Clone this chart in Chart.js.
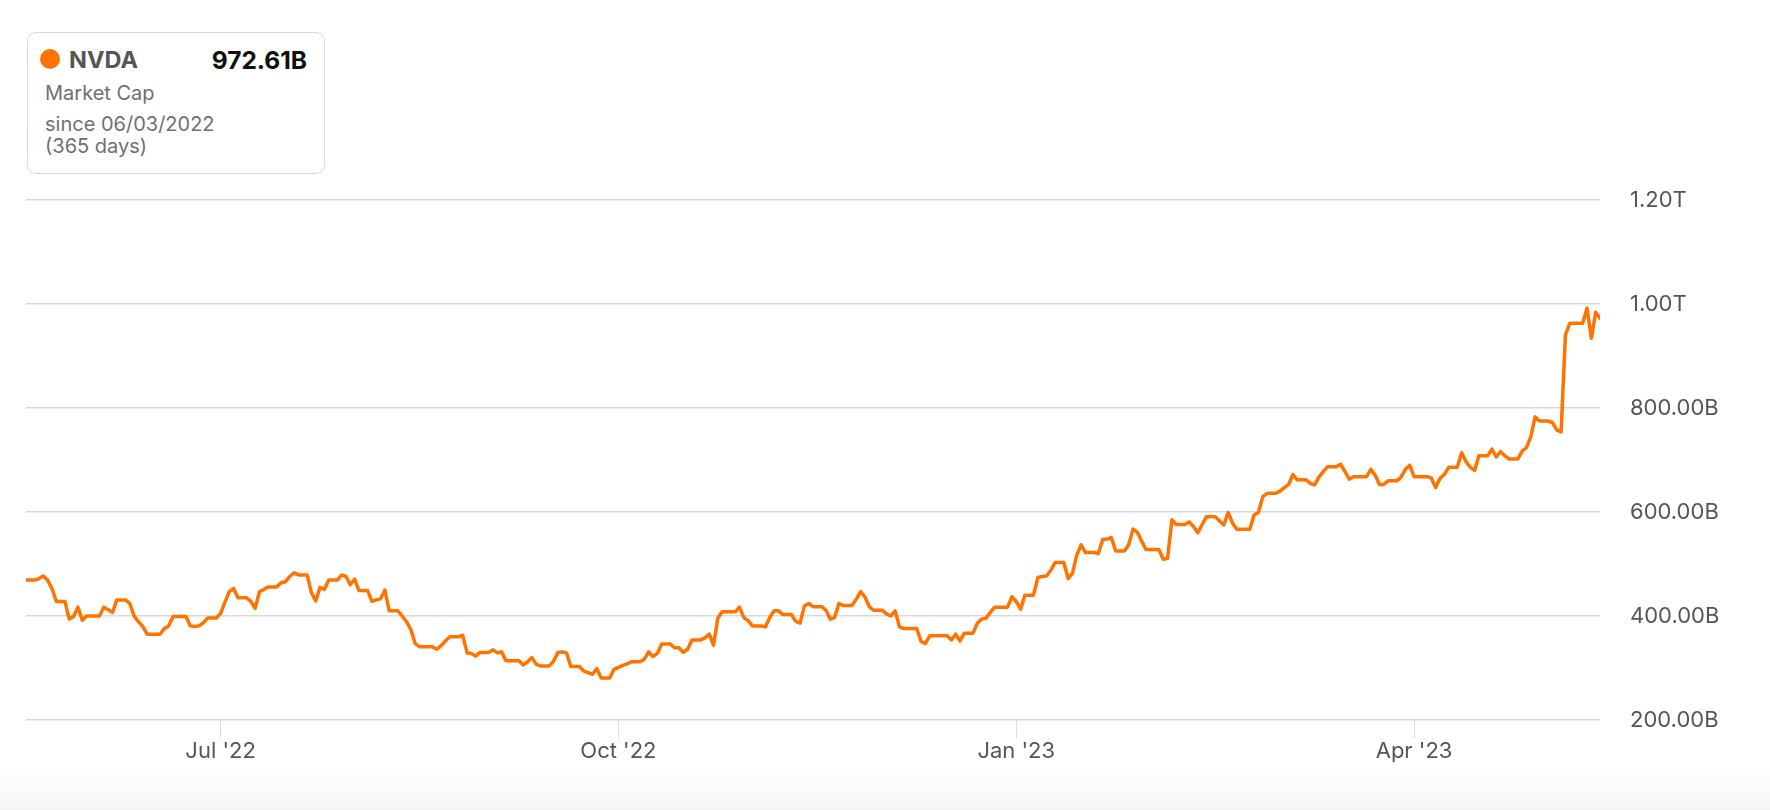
<!DOCTYPE html>
<html>
<head>
<meta charset="utf-8">
<script src="https://cdn.jsdelivr.net/npm/chart.js@4.4.1/dist/chart.umd.min.js"></script>
<style>
  html, body { margin: 0; padding: 0; background: #fff; }
  body { width: 1770px; height: 810px; position: relative; overflow: hidden; font-family: Inter, "Noto Sans", sans-serif; }
  #fade { position: absolute; left: 0; right: 0; bottom: 0; height: 42px; background: linear-gradient(#ffffff, #f5f5f5); }
  #chart { position: absolute; left: 0; top: 0; }
  .card { position: absolute; left: 27px; top: 32px; width: 298px; height: 142px; box-sizing: border-box;
          border: 1.5px solid #dadada; border-radius: 9px; background: #fff; }
  .t { position: absolute; white-space: nowrap; }
  .dot { position: absolute; left: 40px; top: 49px; width: 20px; height: 20px; border-radius: 50%; background: #ff7300; }
</style>
</head>
<body>
<div id="fade"></div>
<canvas id="chart" width="1770" height="810"></canvas>
<div class="card"></div>
<div class="dot"></div>
<div class="t" style="left:69px; top:48px; font-size:23.5px; line-height:23.5px; font-weight:700; color:#555;">NVDA</div>
<div class="t" style="right:1463px; top:47.6px; font-size:24.5px; line-height:24px; font-weight:700; color:#111;">972.61B</div>
<div class="t" style="left:45px; top:82.7px; font-size:20px; line-height:20px; color:#707070;">Market Cap</div>
<div class="t" style="left:45px; top:114.4px; font-size:20px; line-height:20px; color:#707070;">since 06/03/2022</div>
<div class="t" style="left:45px; top:136.4px; font-size:20px; line-height:20px; color:#707070;">(365 days)</div>
<script>
// Daily market cap (billions USD), 06/03/2022 .. 06/02/2023, weekends carry Friday's value
const marketCapB = [
  469, 469, 469, 472, 477, 469, 453, 428, 428, 428,
  394, 399, 417, 392, 400, 400, 400, 400, 417, 412,
  407, 431, 431, 431, 424, 400, 389, 380, 365, 365,
  365, 365, 376, 381, 399, 399, 399, 399, 381, 380,
  381, 387, 396, 396, 396, 405, 426, 447, 453, 435,
  435, 435, 428, 415, 447, 451, 456, 456, 456, 464,
  466, 476, 483, 479, 479, 479, 445, 429, 455, 451,
  469, 469, 469, 479, 476, 460, 471, 449, 449, 449,
  428, 431, 433, 450, 410, 410, 410, 400, 389, 374,
  347, 341, 341, 341, 341, 336, 343, 352, 360, 360,
  360, 363, 329, 328, 323, 330, 330, 330, 335, 329,
  331, 314, 314, 314, 314, 306, 312, 320, 307, 304,
  304, 304, 313, 330, 331, 329, 303, 303, 303, 294,
  291, 288, 299, 281, 281, 281, 298, 301, 305, 308,
  312, 312, 312, 317, 331, 322, 328, 346, 346, 346,
  339, 339, 330, 336, 354, 354, 354, 358, 365, 344,
  396, 408, 408, 408, 408, 417, 397, 391, 381, 381,
  381, 379, 397, 410, 410, 403, 403, 403, 390, 386,
  419, 424, 418, 418, 418, 411, 394, 397, 424, 420,
  420, 420, 432, 447, 437, 418, 411, 411, 411, 404,
  400, 410, 379, 376, 376, 376, 376, 351, 347, 362,
  362, 362, 362, 362, 354, 365, 352, 367, 367, 367,
  386, 394, 396, 407, 417, 417, 417, 417, 437, 428,
  413, 440, 440, 440, 474, 476, 477, 488, 503, 503,
  503, 472, 482, 517, 537, 522, 522, 522, 520, 547,
  548, 551, 525, 525, 525, 537, 567, 561, 544, 528,
  528, 528, 528, 509, 511, 585, 576, 576, 576, 581,
  572, 560, 576, 591, 591, 591, 583, 575, 599, 579,
  567, 567, 567, 567, 594, 599, 629, 636, 636, 636,
  640, 647, 653, 672, 662, 662, 662, 655, 652, 667,
  678, 687, 687, 687, 692, 678, 663, 668, 668, 668,
  668, 682, 671, 653, 653, 660, 660, 660, 667, 682,
  690, 668, 668, 668, 668, 665, 647, 665, 672, 686,
  686, 686, 714, 697, 686, 680, 708, 708, 708, 721,
  706, 716, 708, 702, 702, 702, 717, 724, 745, 783,
  775, 775, 775, 772, 758, 754, 940, 963, 963, 963,
  963, 992, 934, 984, 972.61
];

// day index (from 06/03/2022) where each x label sits
const tickDays = [45, 137, 229, 321];
const tickLabels = ["Jul '22", "Oct '22", "Jan '23", "Apr '23"];
const yTicks = [200, 400, 600, 800, 1000, 1200];

const LINE_COLOR = '#ff7300';
const LABEL_COLOR = '#555555';

function formatCap(v) {
    if (v >= 1000) return (v / 1000).toFixed(2) + 'T';
    return v.toFixed(2) + 'B';
}

Chart.defaults.font.family = 'Inter, "Noto Sans", sans-serif';

const ctx = document.getElementById('chart').getContext('2d');
new Chart(ctx, {
    type: 'line',
    data: {
        datasets: [{
            data: marketCapB.map((v, i) => ({ x: i, y: v })),
            borderColor: LINE_COLOR,
            borderWidth: 3.5,
            pointRadius: 0,
            tension: 0,
            borderJoinStyle: 'round',
            borderCapStyle: 'round',
        }]
    },
    options: {
        responsive: false,
        animation: false,
        devicePixelRatio: 1,
        layout: { padding: { left: 26, top: 200, right: 0, bottom: 0 } },
        plugins: {
            legend: { display: false },
            tooltip: { enabled: false },
        },
        scales: {
            x: {
                type: 'linear',
                min: 0,
                max: marketCapB.length - 1,
                afterBuildTicks: s => { s.ticks = tickDays.map(v => ({ value: v })); },
                afterFit: s => { s.height = 90; },
                border: { display: false },
                grid: { drawOnChartArea: false, drawTicks: true, tickLength: 18, color: '#dddddd', lineWidth: 1 },
                ticks: {
                    autoSkip: false,
                    maxRotation: 0,
                    padding: 0,
                    color: LABEL_COLOR,
                    font: { size: 22 },
                    callback: v => tickLabels[tickDays.indexOf(v)],
                },
            },
            y: {
                position: 'right',
                min: 200,
                max: 1200,
                afterBuildTicks: s => { s.ticks = yTicks.map(v => ({ value: v })); },
                afterFit: s => { s.width = 170; },
                border: { display: false },
                grid: { color: '#d9d9d9', lineWidth: 1.5, drawTicks: false },
                ticks: {
                    padding: 30,
                    color: LABEL_COLOR,
                    font: { size: 22 },
                    callback: v => formatCap(v),
                },
            },
        },
    },
});
</script>
</body>
</html>
